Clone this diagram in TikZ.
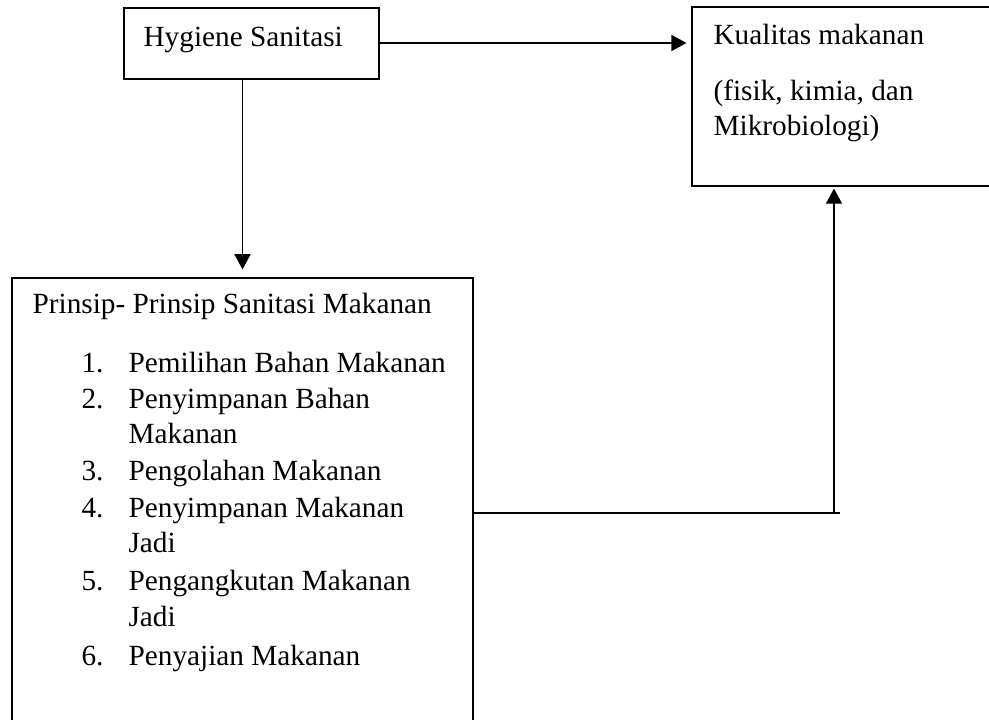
\documentclass[tikz,border=0pt]{standalone}
\usepackage{fontspec}
\setmainfont{Liberation Serif}
\usetikzlibrary{fit}
\usetikzlibrary{positioning, arrows.meta, calc}

\begin{document}
\begin{tikzpicture}[x=0.41pt, y=-0.41pt, font=\fontsize{12}{14}\selectfont,
    line width=0.5pt,
    box/.style={draw, rectangle, inner sep=0pt},
    txt/.style={anchor=base west, inner sep=0pt},
    arrow/.style={-{Triangle[length=6.2pt, width=6.6pt]}}]
  \useasboundingbox (0,0) rectangle (989,720);
  \clip (0,0) rectangle (989,720);

  % Boxes
  \node[box, fit={(124,8) (379,79)}] (hygiene) {};
  \node[box, fit={(692,7) (1000,186)}] (kualitas) {};
  \node[box, fit={(12,278) (473,740)}] (prinsip) {};

  % Texts
  \node[txt] (hygienetxt) at (143,47) {Hygiene Sanitasi};
  \node[txt] (kualitastxt) at (713,45) {Kualitas makanan};
  \node[txt] (kualitas1) at (713,100) {(fisik, kimia, dan};
  \node[txt] (kualitas2) at (713,135) {Mikrobiologi)};
  \node[txt] (prinsiptxt) at (32,313) {Prinsip- Prinsip Sanitasi Makanan};
  \foreach \n/\y/\t in {1/372/Pemilihan Bahan Makanan, 2/408/Penyimpanan Bahan,
      3/480/Pengolahan Makanan, 4/517/Penyimpanan Makanan,
      5/590/Pengangkutan Makanan, 6/665/Penyajian Makanan}
  {
    \node[txt] (num\n) at (81,\y) {\n.};
    \node[txt] (item\n) at (128,\y) {\t};
  }
  \foreach \k/\y/\t in {2/443/Makanan, 4/552/Jadi, 5/626/Jadi}
  \node[txt] (cont\k) at (128,\y) {\t};

  % Arrows
  \coordinate (bend) at (834,513);
  \coordinate (lineend) at (840,513);
  \draw[arrow, shorten >=2pt] (hygiene.east |- 0,43) -- (kualitas.west |- 0,43);
  \draw[arrow, shorten >=3.3pt] (hygiene.south -| prinsip.north) -- (prinsip.north);
  \draw (prinsip.east |- bend) -- (lineend);
  \draw[arrow, shorten >=0.8pt] (bend) -- (bend |- kualitas.south);
\end{tikzpicture}
\end{document}
